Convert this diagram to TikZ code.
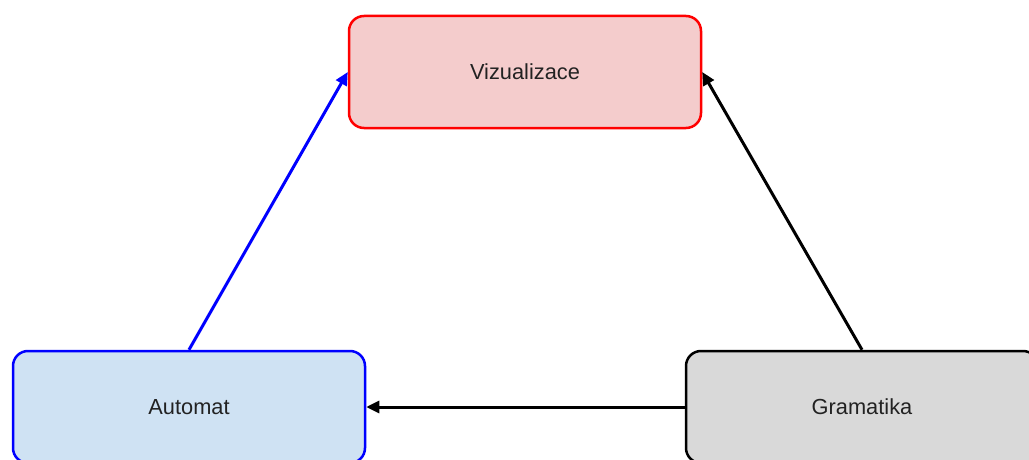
\documentclass[tikz,border=0pt]{standalone}
\usepackage{fontspec}
\setmainfont{Liberation Sans}
\usetikzlibrary{arrows.meta}
\definecolor{vizfill}{HTML}{F4CCCC}
\definecolor{autfill}{HTML}{CFE2F3}
\definecolor{grafill}{HTML}{D9D9D9}
\definecolor{txt}{HTML}{222222}
\begin{document}
\begin{tikzpicture}[x=1pt,y=-1pt,
  box/.style={draw, line width=2.5pt, rounded corners=15pt, minimum width=352pt, minimum height=112pt, font=\fontsize{21.8}{26}\selectfont, text=txt},
  conn/.style={line width=3pt, -{Triangle[length=13pt,width=12pt]}}]
\useasboundingbox (0,0) rectangle (1029,460);
\clip (0,0) rectangle (1029,460);
\node[box, draw=red, fill=vizfill] (v) at (525,72) {Vizualizace};
\node[box, draw=blue, fill=autfill] (a) at (189,407) {Automat};
\node[box, draw=black, fill=grafill] (g) at (862,407) {Gramatika};
\draw[conn, blue] (a.north) -- (v.west);
\draw[conn, black] (g.north) -- (v.east);
\draw[conn, black] (g.west) -- (a.east);
\end{tikzpicture}
\end{document}
